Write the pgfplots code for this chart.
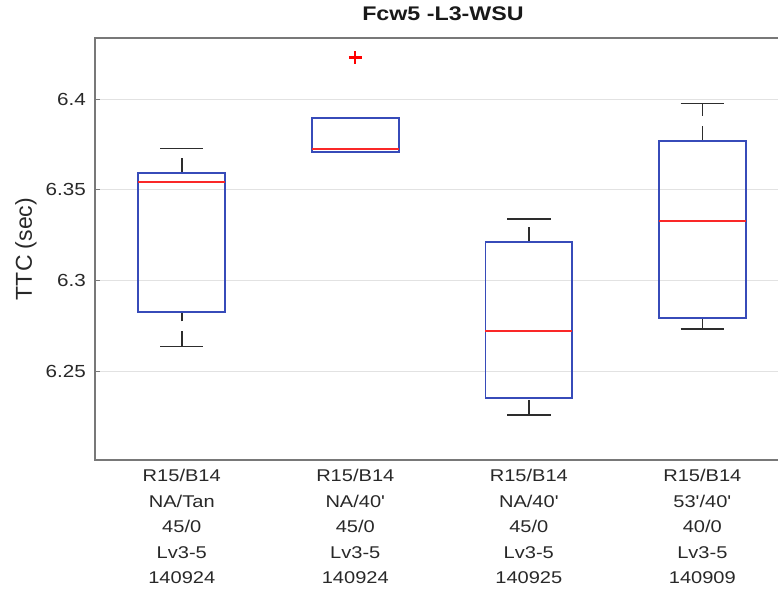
\documentclass[border=0pt]{standalone}
\usepackage{fontspec}
\setmainfont{Liberation Sans}[FakeStretch=1.18, Ligatures=TeXOff]
\newfontfamily\labelfont{Liberation Sans}
\usepackage{pgfplots}
\pgfplotsset{compat=1.18}
\usetikzlibrary{calc}

\definecolor{boxblue}{RGB}{55,75,185}
\definecolor{medred}{RGB}{250,40,40}
\definecolor{whisk}{RGB}{45,45,45}
\definecolor{axgray}{RGB}{120,120,120}
\definecolor{gridgray}{RGB}{226,226,226}
\definecolor{txt}{RGB}{40,40,40}

\tikzset{
  bpwhisker/.style={draw=whisk, line width=1.5bp, dash pattern=on 15bp off 10bp},
  bpcap/.style={draw=whisk, line width=1.5bp, solid},
  bpbox/.style={draw=boxblue, line width=1.8bp, solid},
  bpmed/.style={draw=medred, line width=1.9bp, solid},
}

\begin{document}
\begin{tikzpicture}
\begin{axis}[
  scale only axis,
  width=683bp, height=422bp,
  xmin=0.5, xmax=4.436,
  ymin=6.2009, ymax=6.4338,
  clip=false,
  axis line style={draw=none},
  xtick={1,2,3,4},
  xticklabels={
    {R15/B14\\NA/Tan\\45/0\\Lv3-5\\140924},
    {R15/B14\\NA/40'\\45/0\\Lv3-5\\140924},
    {R15/B14\\NA/40'\\45/0\\Lv3-5\\140925},
    {R15/B14\\53'/40'\\40/0\\Lv3-5\\140909}},
  xticklabel style={align=center, anchor=north, inner sep=0pt, yshift=-9bp,
    font=\fontsize{17bp}{25.6bp}\selectfont, text=txt},
  major x tick style={draw=none},
  ytick={6.25,6.3,6.35,6.4},
  yticklabels={6.25,6.3,6.35,6.4},
  yticklabel style={anchor=east, inner sep=0pt, xshift=-9bp,
    font=\fontsize{17.5bp}{20bp}\selectfont, text=txt},
  ytick pos=left,
  tick align=inside,
  major tick length=5bp,
  major y tick style={axgray, line width=1bp},
  ymajorgrids,
  grid style={gridgray, line width=0.9bp},
  title={\bfseries Fcw5 -L3-WSU},
  title style={at={(rel axis cs:0.5095,1)}, anchor=base, yshift=11.3bp,
    inner sep=0pt, font=\fontsize{19.7bp}{22bp}\selectfont, text=black!90},
  ylabel={\labelfont TTC (sec)},
  ylabel style={at={(rel axis cs:0,0.5)}, anchor=center,
    yshift=69bp, inner sep=0pt, font=\fontsize{23bp}{26bp}\selectfont, text=txt},
]
% ---- group 1 ----
\addplot[bpwhisker] coordinates {(1,6.2636) (1,6.2824)};
\addplot[bpwhisker] coordinates {(1,6.3592) (1,6.3727)};
\addplot[bpcap] coordinates {(0.875,6.2636) (1.125,6.2636)};
\addplot[bpcap] coordinates {(0.875,6.3727) (1.125,6.3727)};
\addplot[bpbox] coordinates {(0.75,6.2824) (1.25,6.2824) (1.25,6.3592) (0.75,6.3592) (0.75,6.2824)} -- cycle;
\addplot[bpmed] coordinates {(0.75,6.3542) (1.25,6.3542)};
% ---- group 2 ----
\addplot[bpcap] coordinates {(1.875,6.3707) (2.125,6.3707)};
\addplot[bpcap] coordinates {(1.875,6.3895) (2.125,6.3895)};
\addplot[bpbox] coordinates {(1.75,6.3711) (2.25,6.3711) (2.25,6.3895) (1.75,6.3895) (1.75,6.3711)} -- cycle;
\addplot[bpmed] coordinates {(1.75,6.3726) (2.25,6.3726)};
% outlier
\addplot[red, only marks, mark=+, mark size=6.5bp, line width=2.2bp] coordinates {(2,6.4230)};
% ---- group 3 ----
\addplot[bpwhisker] coordinates {(3,6.2257) (3,6.2349)};
\addplot[bpwhisker] coordinates {(3,6.3211) (3,6.3338)};
\addplot[bpcap] coordinates {(2.875,6.2257) (3.125,6.2257)};
\addplot[bpcap] coordinates {(2.875,6.3338) (3.125,6.3338)};
\addplot[bpbox] coordinates {(2.75,6.2349) (3.25,6.2349) (3.25,6.3211) (2.75,6.3211) (2.75,6.2349)} -- cycle;
\addplot[bpmed] coordinates {(2.75,6.2719) (3.25,6.2719)};
% ---- group 4 ----
\addplot[bpwhisker] coordinates {(4,6.2732) (4,6.2794)};
\addplot[bpwhisker] coordinates {(4,6.3770) (4,6.3976)};
\addplot[bpcap] coordinates {(3.875,6.2732) (4.125,6.2732)};
\addplot[bpcap] coordinates {(3.875,6.3976) (4.125,6.3976)};
\addplot[bpbox] coordinates {(3.75,6.2794) (4.25,6.2794) (4.25,6.3770) (3.75,6.3770) (3.75,6.2794)} -- cycle;
\addplot[bpmed] coordinates {(3.75,6.3330) (4.25,6.3330)};
% axis frame: left, top and bottom sides
\draw[axgray, line width=1.6bp] (rel axis cs:1,1) -- (rel axis cs:0,1) -- (rel axis cs:0,0) -- (rel axis cs:1,0);
\coordinate (bl) at (rel axis cs:0,0);
\coordinate (tr) at (rel axis cs:1,1);
\end{axis}
\pgfresetboundingbox
\useasboundingbox ($(bl)+(-95bp,-130bp)$) rectangle ($(tr)+(0bp,38bp)$);
\end{tikzpicture}
\end{document}
